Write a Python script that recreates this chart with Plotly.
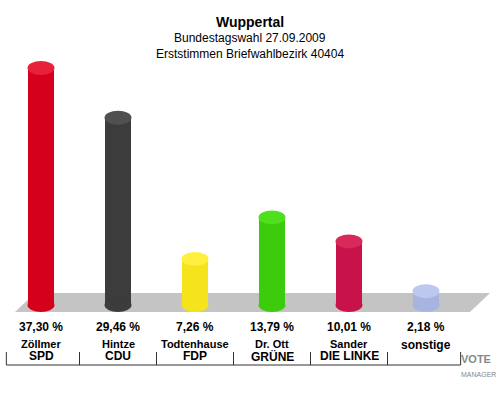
import plotly.graph_objects as go

names = ["Zöllmer", "Hintze", "Todtenhause", "Dr. Ott", "Sander", ""]
parties = ["SPD", "CDU", "FDP", "GRÜNE", "DIE LINKE", "sonstige"]
values = [37.30, 29.46, 7.26, 13.79, 10.01, 2.18]
labels = ["37,30 %", "29,46 %", "7,26 %", "13,79 %", "10,01 %", "2,18 %"]
colors = ["#d4001c", "#3c3c3c", "#f5e41c", "#3ccc0c", "#c8134a", "#a8b4e0"]
tops = ["#e8203a", "#505050", "#fff040", "#4ee01c", "#d82a5a", "#bcc8ee"]

PX = 400 / (48.0 + 14.95)
def py(p):
    return (305 - p) / PX

fig = go.Figure()
xs = list(range(len(values)))
W = 0.35
fig.add_trace(go.Bar(x=xs, y=values, width=W, marker=dict(color=colors, line=dict(width=0)),
                     hoverinfo="skip", showlegend=False))
shapes = []
shapes.append(dict(type="path", xref="paper", yref="paper",
                   path="M 0.03 0.22 L 0.94 0.22 L 0.98 0.2675 L 0.07 0.2675 Z",
                   fillcolor="#c4c4c4", line=dict(width=0), layer="below"))
for i, v in enumerate(values):
    shapes.append(dict(type="circle", xref="x", yref="y", x0=i - W/2, x1=i + W/2,
                       y0=-1.1, y1=1.1, fillcolor=colors[i], line=dict(width=0)))
    shapes.append(dict(type="circle", xref="x", yref="y", x0=i - W/2, x1=i + W/2,
                       y0=v - 1.1, y1=v + 1.1, fillcolor=tops[i], line=dict(width=0)))
yb = py(365); yt = py(352)
shapes.append(dict(type="line", xref="x", yref="y", x0=-0.45, x1=5.45, y0=yb, y1=yb,
                   line=dict(color="#333", width=1)))
for b in [-0.45, 0.5, 1.5, 2.5, 3.5, 4.5, 5.45]:
    shapes.append(dict(type="line", xref="x", yref="y", x0=b, x1=b, y0=yb, y1=yt,
                       line=dict(color="#333", width=1)))

ann = []
for i in xs:
    ann.append(dict(x=i, y=py(327), text="<b>" + labels[i] + "</b>", showarrow=False, xref="x", yref="y",
                    font=dict(size=12, color="#000", family="Arial")))
    if names[i]:
        ann.append(dict(x=i, y=py(344), text="<b>" + names[i] + "</b>", showarrow=False,
                        xref="x", yref="y", font=dict(size=11, color="#000", family="Arial")))
        ann.append(dict(x=i, y=py(356), text="<b>" + parties[i] + "</b>", showarrow=False,
                        xref="x", yref="y", font=dict(size=12, color="#000", family="Arial")))
    else:
        ann.append(dict(x=i, y=py(345), text="<b>" + parties[i] + "</b>", showarrow=False,
                        xref="x", yref="y", font=dict(size=12, color="#000", family="Arial")))

ann += [
    dict(x=0.5, y=1 - 12/400, xref="paper", yref="paper", text="<b>Wuppertal</b>", showarrow=False,
         font=dict(size=14, family="Arial", color="#000")),
    dict(x=0.5, y=1 - 29/400, xref="paper", yref="paper", text="Bundestagswahl 27.09.2009",
         showarrow=False, font=dict(size=12, family="Arial", color="#000")),
    dict(x=0.5, y=1 - 45/400, xref="paper", yref="paper", text="Erststimmen Briefwahlbezirk 40404",
         showarrow=False, font=dict(size=12, family="Arial", color="#000")),
    dict(x=0.995, y=1 - 380/400, xref="paper", yref="paper", xanchor="right",
         text="<b>VOTE</b><br><span style='font-size:7px'>MANAGER</span>", showarrow=False,
         align="left", font=dict(size=11, family="Arial", color="#888")),
]

fig.update_layout(width=500, height=400, margin=dict(l=0, r=0, t=0, b=0),
                  plot_bgcolor="white", paper_bgcolor="white",
                  xaxis=dict(range=[-41/77, (500-41)/77], visible=False, fixedrange=True),
                  yaxis=dict(range=[-14.95, 48.0], visible=False),
                  shapes=shapes, annotations=ann, bargap=0)
fig.write_html("out.html", post_script="document.body.style.margin='0';",
               config={"displayModeBar": False})
